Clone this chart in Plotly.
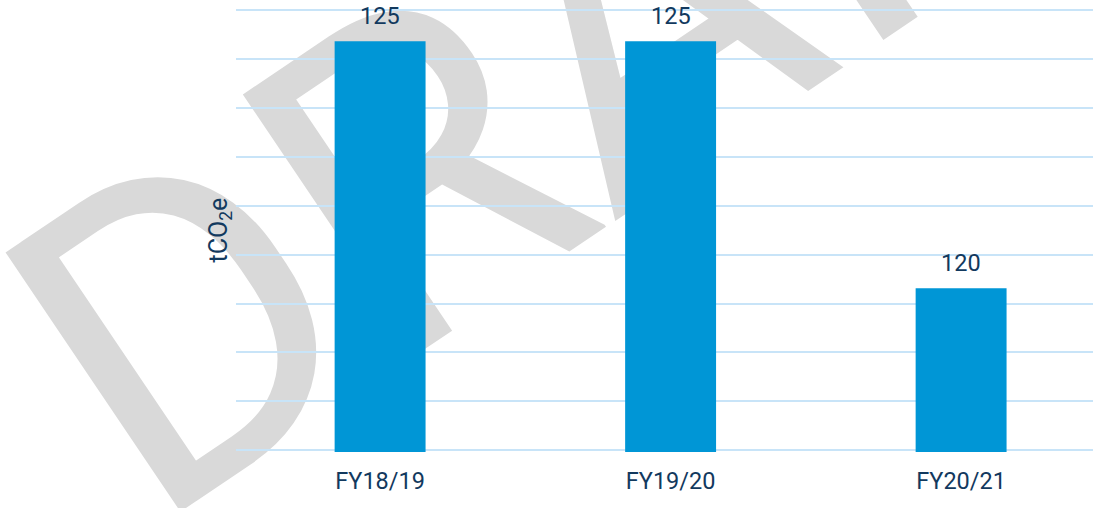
import plotly.graph_objects as go

# ---- data ----
categories = ["FY18/19", "FY19/20", "FY20/21"]
emissions = [125.37, 125.37, 120.31]
y_title = "tCO<sub>2</sub>e"

# watermark letters and their pixel centres in the page (decoration only)
wm_letters = ["D", "R", "A", "F", "T"]
wm_centres = [(168, 300), (398, 147), (627, -7), (852, -159), (1032, -281)]

W, H = 1093, 508
ML, MR, MT, MB = 236, 0, 8, 56
PW, PH = W - ML - MR, H - MT - MB

TEXT = "#12395E"
BAR = "#0096D6"
GRID = "#C8E4F8"
FS = 23.5

fig = go.Figure()
fig.add_trace(go.Bar(
    x=categories, y=emissions,
    marker=dict(color=BAR, line=dict(width=0)),
    width=0.313,
    hoverinfo="x+y",
))

annotations = []
for c, v in zip(categories, emissions):
    annotations.append(dict(
        x=c, y=v, xref="x", yref="y", text=f"{v:.0f}", showarrow=False,
        yanchor="bottom", yshift=9,
        font=dict(family="Roboto", size=FS, color=TEXT),
    ))

shapes = []
for ch, (px, py) in zip(wm_letters, wm_centres):
    cx = (px - ML) / PW
    cy = (H - MB - py) / PH
    shapes.append(dict(
        type="rect", xref="paper", yref="paper",
        x0=cx - 0.001, x1=cx + 0.001, y0=cy - 0.001, y1=cy + 0.001,
        line=dict(width=0), fillcolor="rgba(0,0,0,0)", layer="below",
        label=dict(text=ch, font=dict(family="Roboto", size=440, color="#D9D9D9"),
                   textangle=-34, textposition="middle center", padding=0),
    ))

fig.update_layout(
    width=W, height=H,
    margin=dict(l=ML, r=MR, t=MT, b=MB),
    paper_bgcolor="white", plot_bgcolor="rgba(0,0,0,0)",
    showlegend=False,
    shapes=shapes,
    annotations=annotations,
    font=dict(family="Roboto", size=FS, color=TEXT),
    xaxis=dict(range=[-0.496, 2.454], showgrid=False, showline=False, ticks="",
               ticklabelstandoff=12,
               tickfont=dict(family="Roboto", size=FS, color=TEXT)),
    yaxis=dict(range=[116.96, 126.05], dtick=1, tick0=117, showticklabels=False,
               showgrid=True, gridcolor=GRID, gridwidth=2, zeroline=False,
               title=dict(text=y_title, standoff=0,
                          font=dict(family="Roboto", size=25, color=TEXT))),
)

# remove the browser's default 8px body margin so the figure sits at the page origin
fig.write_html("out.html", config={"displayModeBar": False},
               post_script="document.body.style.margin='0';")
